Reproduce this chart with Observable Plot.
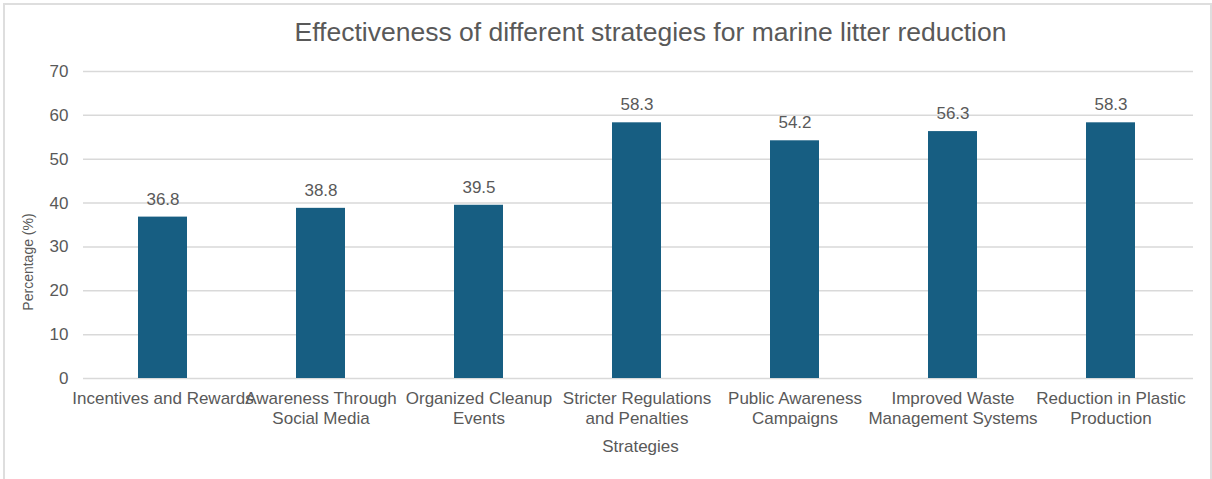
<!DOCTYPE html>
<html>
<head>
<meta charset="utf-8">
<script src="https://cdn.jsdelivr.net/npm/d3@7"></script>
<script src="https://cdn.jsdelivr.net/npm/@observablehq/plot@0.6"></script>
<style>
  html, body { margin: 0; padding: 0; background: #fff; }
  #wrap { position: relative; width: 1212px; height: 479px; overflow: hidden;
          font-family: "Liberation Sans", Arial, sans-serif; }
  #border { position: absolute; left: 3px; top: 3px; width: 1205px; height: 490px;
            border: 2px solid #dedede; pointer-events: none; }
  #ytitle { position: absolute; left: 28px; top: 262px; font-size: 14px; color: #595959;
            white-space: nowrap; line-height: 1;
            transform: translate(-50%, -50%) rotate(-90deg); }
  svg { font-family: "Liberation Sans", Arial, sans-serif; }
</style>
</head>
<body>
<div id="wrap"><div id="border"></div><div id="ytitle"></div></div>
<script>
const categories = [
  "Incentives and Rewards",
  "Awareness Through Social Media",
  "Organized Cleanup Events",
  "Stricter Regulations and Penalties",
  "Public Awareness Campaigns",
  "Improved Waste Management Systems",
  "Reduction in Plastic Production"
];
const values = [36.8, 38.8, 39.5, 58.3, 54.2, 56.3, 58.3];
const tickLabels = [
  "Incentives and Rewards",
  "Awareness Through\nSocial Media",
  "Organized Cleanup\nEvents",
  "Stricter Regulations\nand Penalties",
  "Public Awareness\nCampaigns",
  "Improved Waste\nManagement Systems",
  "Reduction in Plastic\nProduction"
];
const yTicks = [0, 10, 20, 30, 40, 50, 60, 70];
const title = "Effectiveness of different strategies for marine litter reduction";
const xTitle = "Strategies";
const yTitle = "Percentage (%)";

const data = categories.map((c, i) => ({category: c, value: values[i]}));
const labelOf = new Map(categories.map((c, i) => [c, tickLabels[i]]));

const textColor = "#595959";
const barColor = "#175e82";
const gridColor = "#d9d9d9";

const chart = Plot.plot({
  width: 1212,
  height: 479,
  marginLeft: 83,
  marginRight: 19,
  marginTop: 71,
  marginBottom: 101,
  style: {fontFamily: "'Liberation Sans', Arial, sans-serif", fontSize: "17px", color: textColor, background: "transparent"},
  x: {domain: categories, range: [82, 1191], paddingInner: 0.69, paddingOuter: 0.345},
  y: {domain: [0, 70]},
  marks: [
    Plot.gridY(yTicks, {stroke: gridColor, strokeOpacity: 1, strokeWidth: 1.5}),
    Plot.axisY(yTicks, {tickSize: 0, tickPadding: 15, fontSize: 17, fill: textColor, label: null}),
    Plot.axisX({tickSize: 0, tickPadding: 11, fontSize: 17, fill: textColor, label: null,
                lineHeight: 1.18, tickFormat: d => labelOf.get(d), textOverflow: null}),
    Plot.barY(data, {x: "category", y: "value", fill: barColor}),
    Plot.text(data, {x: "category", y: "value", text: d => d.value.toFixed(1), dy: -18,
                     fontSize: 17, fill: textColor}),
    Plot.text([title], {frameAnchor: "top", lineAnchor: "middle", dx: 12, dy: -39, fontSize: 26.5, fill: textColor}),
    Plot.text([xTitle], {frameAnchor: "bottom", lineAnchor: "middle", dx: 2, dy: 68, fontSize: 17, fill: textColor})
  ]
});
document.getElementById("wrap").prepend(chart);
document.getElementById("ytitle").textContent = yTitle;
</script>
</body>
</html>
